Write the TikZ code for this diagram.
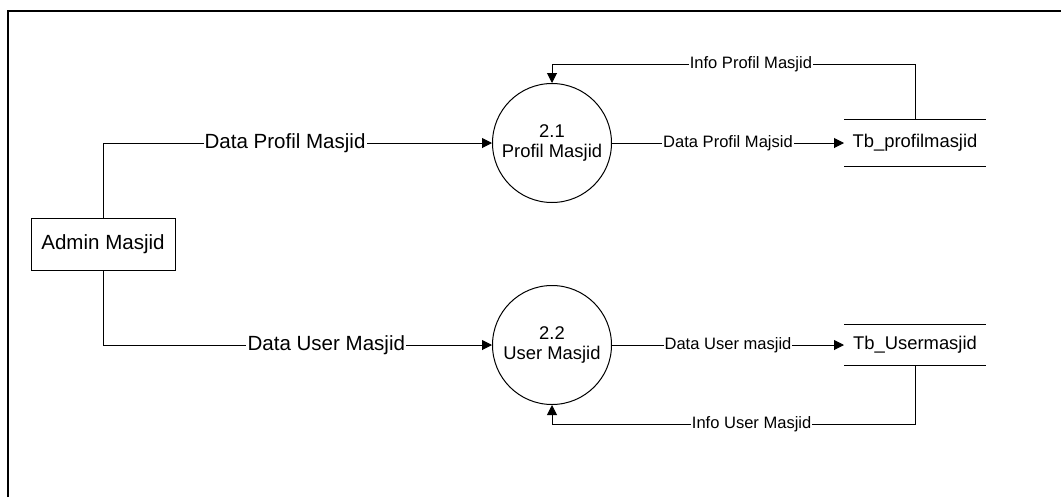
\documentclass[tikz,border=0pt]{standalone}
\usepackage{fontspec}
\setmainfont{Liberation Sans}
\usetikzlibrary{arrows.meta}
\begin{document}
\begin{tikzpicture}[x=0.75pt,y=-0.75pt,
  line width=0.75pt,
  arr/.style={-{Triangle[length=7.5pt,width=7.5pt]}},
  lbl/.style={fill=white,inner sep=0.8pt,font=\fontsize{12.4}{14}\selectfont},
  biglbl/.style={fill=white,inner sep=0.8pt,font=\fontsize{15.4}{18}\selectfont},
  proc/.style={draw,circle,minimum size=89.25pt,inner sep=0pt,align=center,font=\fontsize{13.8}{15}\selectfont},
  ext/.style={draw,minimum width=108pt,minimum height=39pt,inner sep=0pt,font=\fontsize{15.4}{18}\selectfont},
  store/.style={minimum width=105.75pt,inner sep=0pt,font=\fontsize{13.8}{16}\selectfont}]
\useasboundingbox (0,0) rectangle (1061,497);
\draw[line width=1.5pt] (8,497) -- (8,11) -- (1061,11);

\node[ext] (admin) at (103,244) {Admin Masjid};
\node[proc] (p21) at (552,143) {2.1\\Profil Masjid};
\node[proc] (p22) at (552,345) {2.2\\User Masjid};
\node[store,minimum height=34.5pt] (s1) at (915,143) {Tb\_profilmasjid};
\node[store,minimum height=30pt] (s2) at (915,345) {Tb\_Usermasjid};
\draw (s1.north west) -- (s1.north east) (s1.south west) -- (s1.south east);
\draw (s2.north west) -- (s2.north east) (s2.south west) -- (s2.south east);

\coordinate (top) at (0,64);
\coordinate (bot) at (0,424);

\draw[arr] (admin.north) |- node[biglbl,pos=0.734] {Data Profil Masjid} (p21.west);
\draw[arr] (admin.south) |- node[biglbl,pos=0.787] {Data User Masjid} (p22.west);
\draw[arr] (p21.east) -- node[lbl] {Data Profil Majsid} (s1.west);
\draw[arr] (p22.east) -- node[lbl] {Data User masjid} (s2.west);
\draw[arr] (s1.north) -- (s1.north |- top) -| node[lbl,pos=0.226] {Info Profil Masjid} (p21.north);
\draw[arr] (s2.south) -- (s2.south |- bot) -| node[lbl,pos=0.225] {Info User Masjid} (p22.south);
\end{tikzpicture}
\end{document}
